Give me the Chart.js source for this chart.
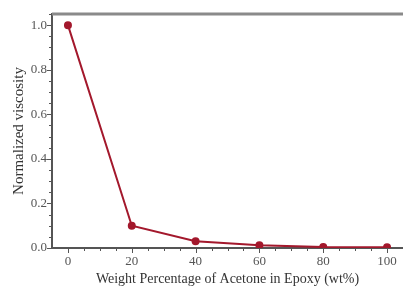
<!DOCTYPE html>
<html>
<head>
<meta charset="utf-8">
<script src="https://cdn.jsdelivr.net/npm/chart.js@4"></script>
<style>
  html, body { margin: 0; padding: 0; background: #fff; }
  #wrap { width: 403px; height: 288px; }
</style>
</head>
<body>
<div id="wrap"><canvas id="myChart" width="403" height="288"></canvas></div>
<script>
// data
const acetone = [0, 20, 40, 60, 80, 100];
const viscosity = [1.0, 0.1, 0.03, 0.012, 0.004, 0.003];
const xTicks = [0, 20, 40, 60, 80, 100];
const yTicks = [0, 0.2, 0.4, 0.6, 0.8, 1.0];
const xMinorStep = 5;
const yMinorStep = 0.05;

const red = '#a3182c';
const axisGray = '#555';

// minor/major tick marks + top frame line
const tickMarks = {
  id: 'tickMarks',
  afterDraw(chart) {
    const { ctx, chartArea, scales } = chart;
    ctx.save();
    ctx.strokeStyle = axisGray;
    ctx.lineWidth = 1;
    // x ticks
    for (let v = 0; v <= 105; v += xMinorStep) {
      const px = Math.round(scales.x.getPixelForValue(v)) + 0.5;
      const len = v % 20 === 0 ? 5 : 3;
      ctx.beginPath();
      ctx.moveTo(px, chartArea.bottom);
      ctx.lineTo(px, chartArea.bottom + len);
      ctx.stroke();
    }
    // y ticks
    for (let i = 0; i * yMinorStep <= 1.05; i++) {
      const v = i * yMinorStep;
      const py = Math.round(scales.y.getPixelForValue(v)) + 0.5;
      const len = i % 4 === 0 ? 5 : 3;
      ctx.beginPath();
      ctx.moveTo(chartArea.left, py);
      ctx.lineTo(chartArea.left - len, py);
      ctx.stroke();
    }
    // top frame
    ctx.strokeStyle = '#8a8a8a';
    ctx.lineWidth = 3;
    ctx.beginPath();
    ctx.moveTo(chartArea.left, chartArea.top);
    ctx.lineTo(chartArea.right, chartArea.top);
    ctx.stroke();
    ctx.restore();
  }
};

new Chart(document.getElementById('myChart'), {
  type: 'line',
  data: {
    labels: acetone,
    datasets: [{
      data: acetone.map((x, i) => ({ x: x, y: viscosity[i] })),
      borderColor: red,
      backgroundColor: red,
      borderWidth: 2,
      pointRadius: 3,
      pointHoverRadius: 3,
      tension: 0
    }]
  },
  options: {
    responsive: false,
    animation: false,
    events: [],
    layout: { autoPadding: false, padding: { top: 14, right: 0, left: 0, bottom: 0 } },
    plugins: { legend: { display: false }, tooltip: { enabled: false } },
    scales: {
      x: {
        type: 'linear',
        min: -5,
        max: 105,
        afterBuildTicks: s => { s.ticks = xTicks.map(v => ({ value: v })); },
        afterFit: s => { s.height = 40; s.paddingLeft = 0; s.paddingRight = 0; },
        grid: { display: false, tickLength: 5 },
        border: { display: true, color: axisGray, width: 2 },
        ticks: {
          padding: 1,
          color: '#555',
          font: { family: 'Liberation Serif', size: 13 },
          maxRotation: 0
        },
        title: {
          display: true,
          text: 'Weight Percentage of Acetone in Epoxy (wt%)',
          color: '#333',
          font: { family: 'Liberation Serif', size: 14 },
          padding: { top: 4, bottom: 0 }
        }
      },
      y: {
        min: 0,
        max: 1.05,
        afterBuildTicks: s => { s.ticks = yTicks.map(v => ({ value: v })); },
        afterFit: s => { s.width = 52; },
        grid: { display: false, tickLength: 5 },
        border: { display: true, color: axisGray, width: 2 },
        ticks: {
          padding: 0,
          color: '#555',
          font: { family: 'Liberation Serif', size: 13 },
          callback: v => v.toFixed(1)
        },
        title: {
          display: true,
          text: 'Normalized viscosity',
          color: '#333',
          font: { family: 'Liberation Serif', size: 15 },
          padding: { top: 10, bottom: 0 }
        }
      }
    }
  },
  plugins: [tickMarks]
});
</script>
</body>
</html>
